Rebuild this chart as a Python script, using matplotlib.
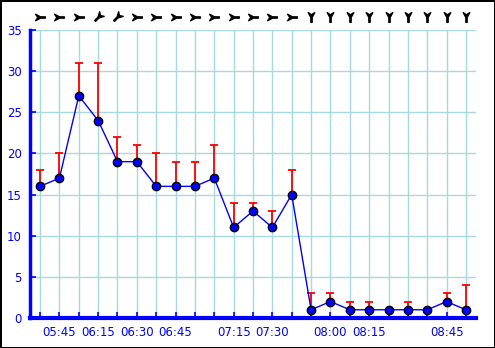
import matplotlib
matplotlib.use("Agg")
import matplotlib.pyplot as plt
import numpy as np
from matplotlib.path import Path
from matplotlib.markers import MarkerStyle
from matplotlib.transforms import Affine2D, blended_transform_factory

speed = [16, 17, 27, 24, 19, 19, 16, 16, 16, 17, 11, 13, 11, 15, 1, 2, 1, 1, 1, 1, 1, 2, 1]
gust = [18, 20, 31, 31, 22, 21, 20, 19, 19, 21, 14, 14, 13, 18, 3, 3, 2, 2, 1, 2, 1, 3, 4]
# direction of travel angle in degrees (0 = right, -90 = down)
direction = [0, 0, 0, -135, -135, 0, 0, 0, 0, 0, 0, 0, 0, 0, -90, -90, -90, -90, -90, -90, -90, -90, -90]
tick_labels = ["", "05:45", "", "06:15", "", "06:30", "", "06:45", "", "", "07:15", "", "07:30",
               "", "", "08:00", "", "08:15", "", "", "", "08:45", ""]
y_ticks = [0, 5, 10, 15, 20, 25, 30, 35]

x = np.arange(len(speed))
blue = "#0000ff"
grid_c = "#a8d8e0"

fig = plt.figure(figsize=(4.95, 3.48), dpi=100)
fig.patch.set_edgecolor("black")
fig.patch.set_linewidth(2)
ax = fig.add_axes([30 / 495, 1 - 318 / 348, 446 / 495, 288 / 348])
ax.set_xlim(-0.52, len(speed) - 1 + 0.52)
ax.set_ylim(0, 35)

ax.set_yticks(y_ticks)
ax.set_xticks(x)
ax.set_xticklabels(tick_labels)
ax.grid(True, color=grid_c, linewidth=1)
ax.set_axisbelow(True)
for s in ["top", "right"]:
    ax.spines[s].set_visible(False)
ax.spines["left"].set_color(blue)
ax.spines["left"].set_linewidth(2.5)
ax.spines["bottom"].set_color(blue)
ax.spines["bottom"].set_linewidth(3)
ax.tick_params(axis="both", direction="in", color=blue, labelcolor=blue, length=4, width=1.2, labelsize=8.5)
ax.tick_params(axis="x", pad=6)
ax.tick_params(axis="y", pad=6)

# gust bars
sp = np.array(speed)
gu = np.array(gust)
m = gu > sp
ax.errorbar(x[m], sp[m], yerr=[np.zeros(m.sum()), (gu - sp)[m]], fmt="none",
            ecolor="#ff0000", elinewidth=1.3, capsize=3, capthick=1.3, zorder=3)

ax.plot(x, speed, color=blue, linewidth=1, marker="o", markersize=6,
        markerfacecolor=blue, markeredgecolor="black", markeredgewidth=1, zorder=4, clip_on=False)

# arrow marker pointing right: chevron tail at left, shaft to the right
verts = [(-0.9, 0.6), (0.0, 0.12), (0.9, 0.12), (0.9, -0.12), (0.0, -0.12), (-0.9, -0.6), (-0.5, 0.0), (-0.9, 0.6)]
codes = [Path.MOVETO] + [Path.LINETO] * 6 + [Path.CLOSEPOLY]
arrow = Path(verts, codes)
trans = blended_transform_factory(ax.transData, ax.transAxes)
for xi, d in zip(x, direction):
    mk = MarkerStyle(arrow, transform=Affine2D().rotate_deg(d))
    ax.plot([xi], [1.045], marker=mk, markersize=7, color="black", transform=trans,
            clip_on=False, linestyle="none")

fig.savefig("out.png", dpi=100, edgecolor=fig.get_edgecolor())
